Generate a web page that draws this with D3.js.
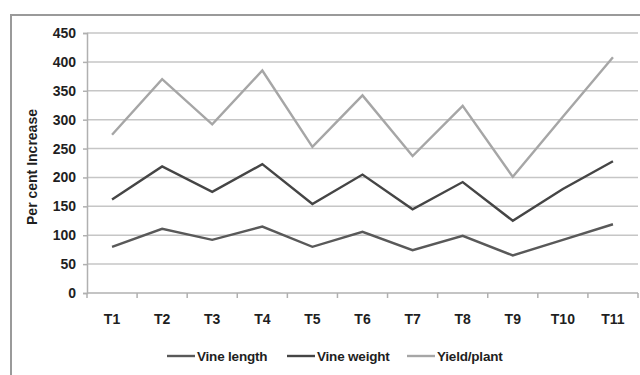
<!DOCTYPE html>
<html>
<head>
<meta charset="utf-8">
<script src="https://cdn.jsdelivr.net/npm/d3@7"></script>
<style>
  html, body { margin: 0; padding: 0; background: #fff; }
  svg { display: block; }
  text { font-family: "Liberation Sans", Arial, sans-serif; font-weight: bold; fill: #1f1f1f; }
</style>
</head>
<body>
<svg id="chart" width="640" height="375"></svg>
<script>
// Treatments on the x axis
const categories = ["T1", "T2", "T3", "T4", "T5", "T6", "T7", "T8", "T9", "T10", "T11"];
// Percent increase per treatment
const vineLength = [80, 111, 92, 115, 80, 106, 74, 99, 65, 92, 119];
const vineWeight = [162, 219, 175, 223, 154, 205, 145, 192, 125, 180, 228];
const yieldPlant = [274, 370, 292, 385, 253, 342, 237, 324, 201, 305, 408];
const yTicks = [0, 50, 100, 150, 200, 250, 300, 350, 400, 450];
const seriesNames = ["Vine length", "Vine weight", "Yield/plant"];

const series = [
  { name: seriesNames[0], values: vineLength, color: "#595959" },
  { name: seriesNames[1], values: vineWeight, color: "#454545" },
  { name: seriesNames[2], values: yieldPlant, color: "#a6a6a6" }
];

const svg = d3.select("#chart");
const plot = { left: 87, right: 638, top: 33, bottom: 293 };

// Outer chart frame
svg.append("rect")
  .attr("x", 11).attr("y", 15)
  .attr("width", 660).attr("height", 420)
  .attr("fill", "none").attr("stroke", "#9a9a9a").attr("stroke-width", 2);

const x = d3.scaleBand().domain(categories).range([plot.left, plot.right]);
const y = d3.scaleLinear().domain([0, 450]).range([plot.bottom, plot.top]);

// Horizontal gridlines
svg.append("g")
  .selectAll("line")
  .data(yTicks.filter(d => d > 0))
  .join("line")
  .attr("x1", plot.left).attr("x2", plot.right)
  .attr("y1", d => y(d)).attr("y2", d => y(d))
  .attr("stroke", "#c6c6c6").attr("stroke-width", 1.5);

// Y axis
const yAxis = svg.append("g")
  .attr("transform", `translate(${plot.left},0)`)
  .call(d3.axisLeft(y).tickValues(yTicks).tickSize(4).tickPadding(7));
yAxis.select(".domain").attr("stroke", "#b0b0b0").attr("stroke-width", 1.5);
yAxis.selectAll(".tick line").attr("stroke", "#b0b0b0").attr("stroke-width", 1.5);
yAxis.selectAll("text")
  .style("font-size", "14px").style("font-weight", "bold")
  .attr("fill", "#1f1f1f").style("font-family", "Liberation Sans, Arial, sans-serif");

// X axis with tick marks at band edges
const xAxis = svg.append("g").attr("transform", `translate(0,${plot.bottom})`);
xAxis.append("line")
  .attr("x1", plot.left).attr("x2", plot.right)
  .attr("stroke", "#b0b0b0").attr("stroke-width", 1.5);
const edges = categories.map(c => x(c)).concat([x(categories[categories.length - 1]) + x.bandwidth()]);
xAxis.selectAll("line.edge")
  .data(edges)
  .join("line")
  .attr("class", "edge")
  .attr("x1", d => d).attr("x2", d => d)
  .attr("y1", 0).attr("y2", 5)
  .attr("stroke", "#b0b0b0").attr("stroke-width", 1.5);
xAxis.selectAll("text")
  .data(categories)
  .join("text")
  .attr("x", d => x(d) + x.bandwidth() / 2)
  .attr("y", 31)
  .attr("text-anchor", "middle")
  .style("font-size", "14px")
  .text(d => d);

// Y axis title
svg.append("text")
  .attr("transform", `translate(37,${(plot.top + plot.bottom) / 2 + 4}) rotate(-90)`)
  .attr("text-anchor", "middle")
  .style("font-size", "14px")
  .text("Per cent Increase");

// Series lines
const line = d3.line()
  .x((d, i) => x(categories[i]) + x.bandwidth() / 2)
  .y(d => y(d));

svg.append("g")
  .selectAll("path")
  .data(series)
  .join("path")
  .attr("d", d => line(d.values))
  .attr("fill", "none")
  .attr("stroke", d => d.color)
  .attr("stroke-width", 2.4)
  .attr("stroke-linejoin", "miter");

// Legend
const legendX = [167, 287, 407];
const legend = svg.append("g")
  .selectAll("g")
  .data(series)
  .join("g")
  .attr("transform", (d, i) => `translate(${legendX[i]},356)`);
legend.append("line")
  .attr("x1", 0).attr("x2", 28)
  .attr("stroke", d => d.color).attr("stroke-width", 2.4);
legend.append("text")
  .attr("x", 30).attr("y", 5)
  .style("font-size", "13.5px")
  .style("letter-spacing", "-0.2px")
  .text(d => d.name);
</script>
</body>
</html>
